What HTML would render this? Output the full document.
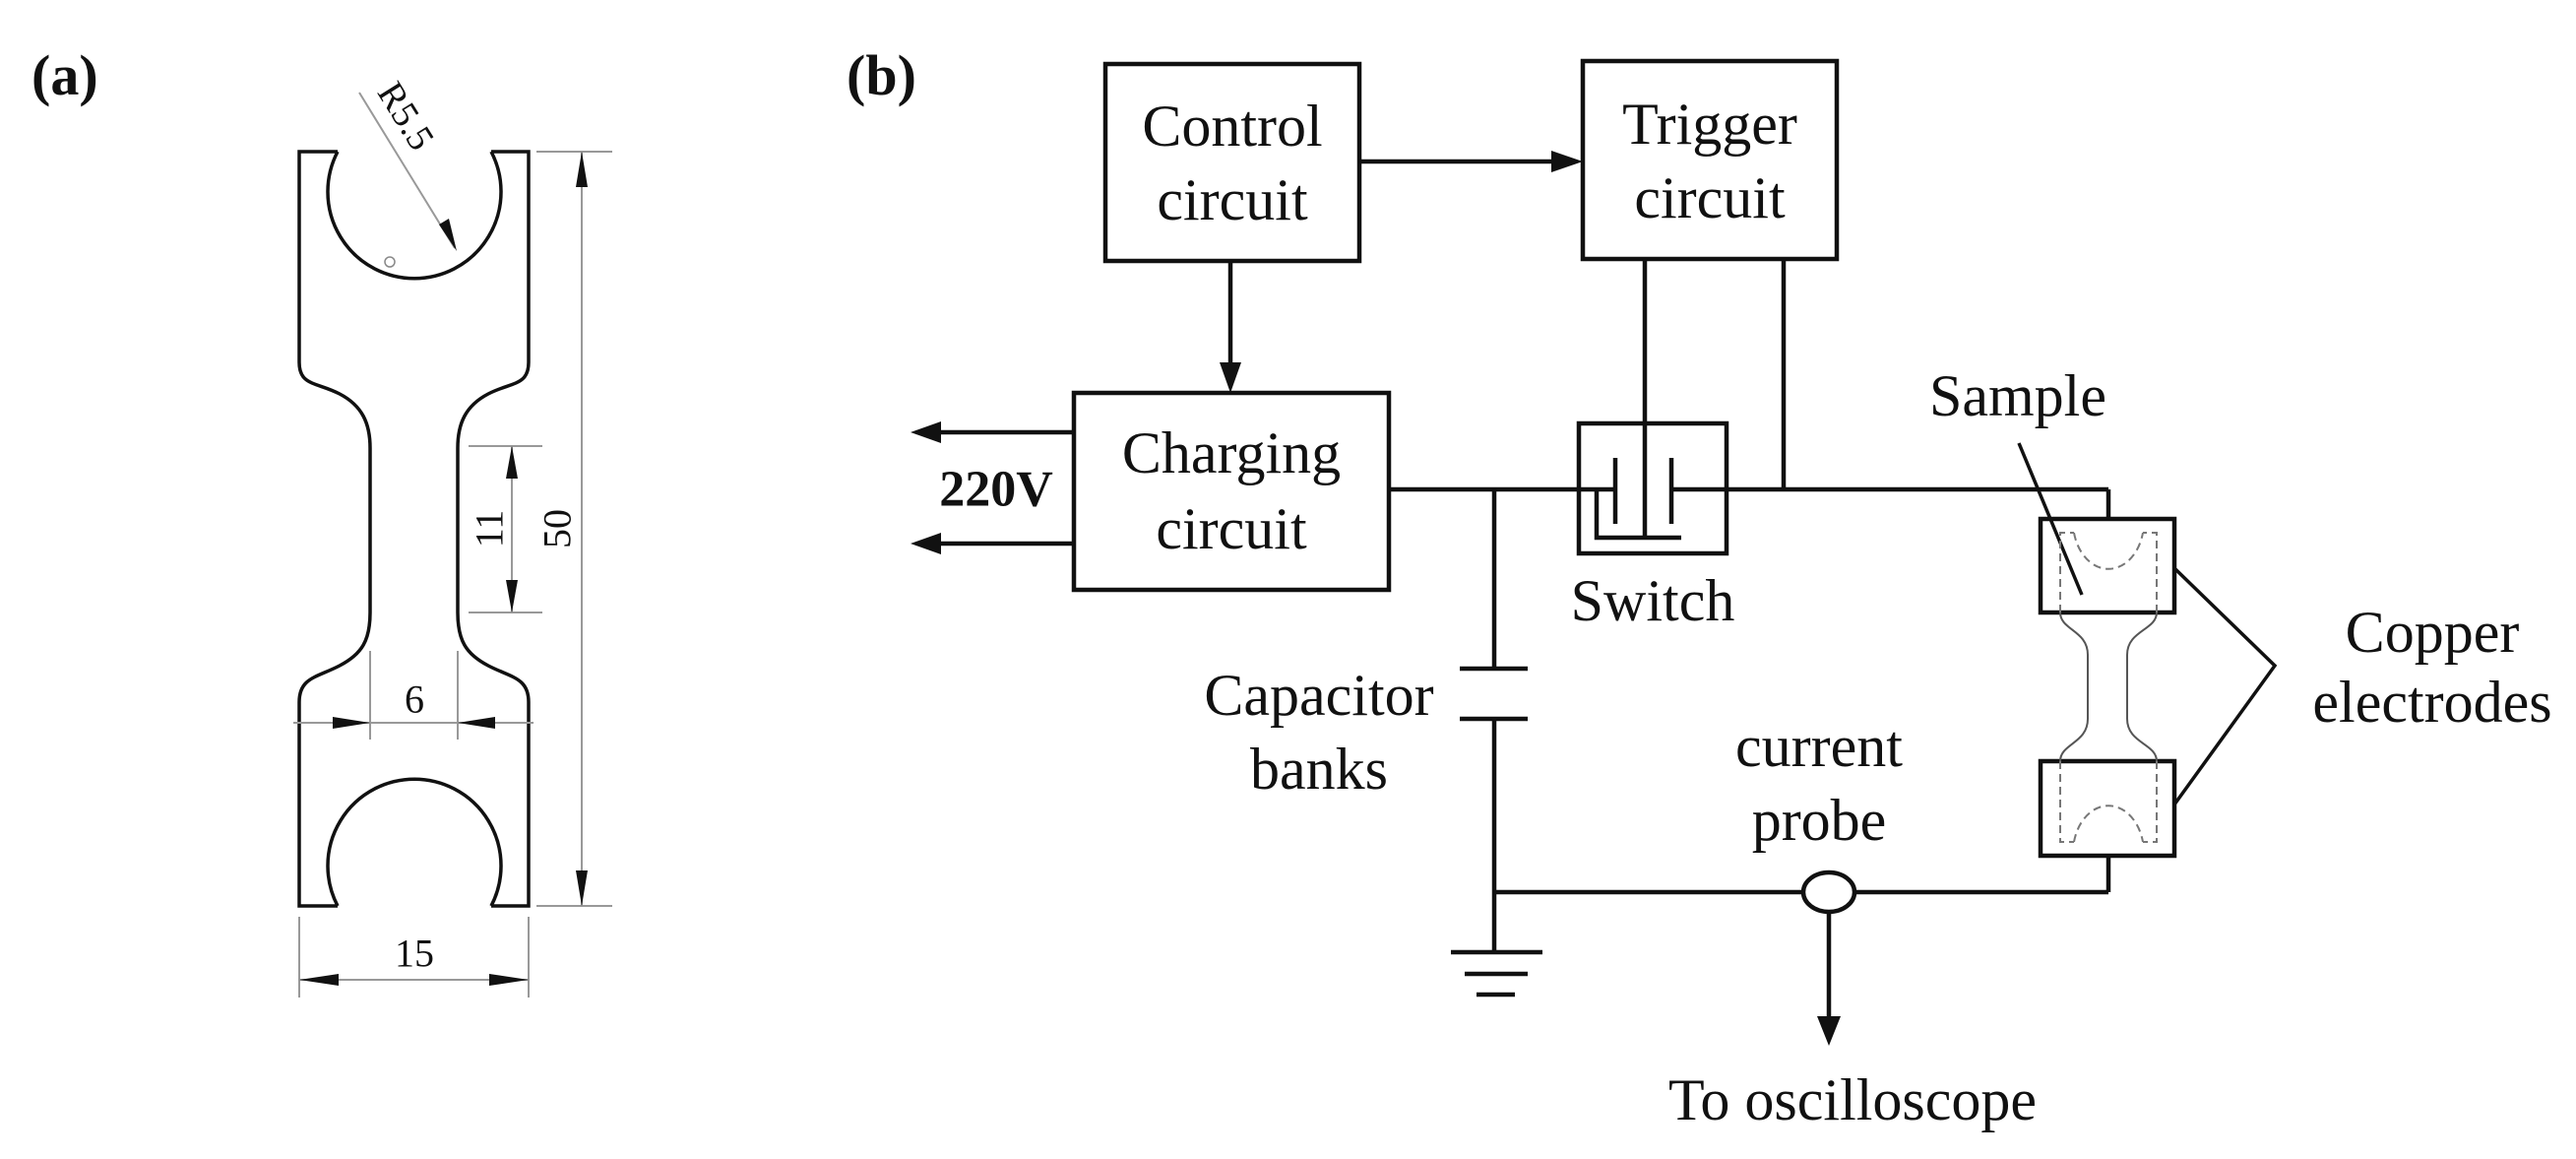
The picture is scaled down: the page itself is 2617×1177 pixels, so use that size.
<!DOCTYPE html>
<html><head><meta charset="utf-8"><style>
html,body{margin:0;padding:0;background:#fff;}
svg{display:block;}
text{font-family:"Liberation Serif","DejaVu Serif",serif;fill:#111;}
</style></head><body>
<svg width="2617" height="1177" viewBox="0 0 2617 1177" xmlns="http://www.w3.org/2000/svg">
<defs>
<marker id="ah" markerWidth="10" markerHeight="10" refX="9" refY="5" orient="auto" markerUnits="userSpaceOnUse" viewBox="0 0 10 10">
</marker>
</defs>
<!-- (a) -->
<text x="32" y="96" font-size="58" font-weight="bold">(a)</text>
<!-- specimen outline -->
<g fill="none" stroke="#111" stroke-width="3.5">
<path d="M343,154 L304,154 L304,368 C304,392 322,388 345,400 C368,412 376,430 376,455 L376,622 C376,650 368,664 345,676 C322,688 304,688 304,713 L304,920 L343,920"/>
<path d="M499,154 L537,154 L537,368 C537,392 519,388 496,400 C473,412 465,430 465,455 L465,622 C465,650 473,664 496,676 C519,688 537,688 537,713 L537,920 L499,920"/>
<path d="M343,154 A88,88 0 1 0 499,154"/>
<path d="M343,920 A88,88 0 1 1 499,920"/>
</g>
<circle cx="396" cy="266" r="5" fill="none" stroke="#888" stroke-width="1.5"/>
<!-- dimension lines -->
<g stroke="#999" stroke-width="2" fill="none">
<line x1="545" y1="154" x2="622" y2="154"/>
<line x1="545" y1="920" x2="622" y2="920"/>
<line x1="591" y1="154" x2="591" y2="920"/>
<line x1="476" y1="453" x2="551" y2="453"/>
<line x1="476" y1="622" x2="551" y2="622"/>
<line x1="520" y1="453" x2="520" y2="622"/>
<line x1="298" y1="734" x2="542" y2="734"/>
<line x1="376" y1="661" x2="376" y2="751"/>
<line x1="465" y1="661" x2="465" y2="751"/>
<line x1="304" y1="931" x2="304" y2="1013"/>
<line x1="537" y1="931" x2="537" y2="1013"/>
<line x1="304" y1="995" x2="537" y2="995"/>
<line x1="365" y1="94" x2="462" y2="252"/>
</g>
<g fill="#111">
<polygon points="591,154 585,190 597,190"/>
<polygon points="591,920 585,884 597,884"/>
<polygon points="520,453 514,486 526,486"/>
<polygon points="520,622 514,589 526,589"/>
<polygon points="376,734 338,728 338,740"/>
<polygon points="465,734 503,728 503,740"/>
<polygon points="304,995 344,989 344,1001"/>
<polygon points="537,995 497,989 497,1001"/>
<polygon points="464,255 446,228 456,222"/>
</g>
<text x="566" y="537" font-size="40" text-anchor="middle" dominant-baseline="central" transform="rotate(-90 566 537)">50</text>
<text x="497" y="537" font-size="40" text-anchor="middle" dominant-baseline="central" transform="rotate(-90 497 537)">11</text>
<text x="421" y="710" font-size="40" text-anchor="middle" dominant-baseline="central">6</text>
<text x="421" y="968" font-size="40" text-anchor="middle" dominant-baseline="central">15</text>
<text x="412" y="118" font-size="38" text-anchor="middle" dominant-baseline="central" transform="rotate(58 412 118)">R5.5</text>

<!-- (b) -->
<text x="860" y="96" font-size="58" font-weight="bold">(b)</text>
<g fill="none" stroke="#111" stroke-width="4.5">
<rect x="1123" y="65" width="258" height="200"/>
<rect x="1608" y="62" width="258" height="201"/>
<rect x="1091" y="399" width="320" height="200"/>
<rect x="1604" y="430" width="150" height="132"/>
<line x1="1381" y1="164" x2="1580" y2="164"/>
<line x1="1250" y1="265" x2="1250" y2="372"/>
<line x1="1091" y1="439" x2="950" y2="439"/>
<line x1="1091" y1="552" x2="950" y2="552"/>
<line x1="1411" y1="497" x2="1641" y2="497"/>
<line x1="1698" y1="497" x2="2142" y2="497"/>
<polyline points="2142,497 2142,527"/>
<line x1="1641" y1="465" x2="1641" y2="532"/>
<line x1="1698" y1="465" x2="1698" y2="532"/>
<polyline points="1622,497 1622,546 1708,546"/>
<line x1="1671" y1="263" x2="1671" y2="546"/>
<line x1="1812" y1="263" x2="1812" y2="497"/>
<line x1="1518" y1="497" x2="1518" y2="679"/>
<line x1="1483" y1="679" x2="1552" y2="679"/>
<line x1="1483" y1="730" x2="1552" y2="730"/>
<line x1="1518" y1="730" x2="1518" y2="967"/>
<line x1="1474" y1="967" x2="1567" y2="967"/>
<line x1="1488" y1="989" x2="1552" y2="989"/>
<line x1="1500" y1="1010" x2="1539" y2="1010"/>
<line x1="1518" y1="906" x2="1832" y2="906"/>
<line x1="1884" y1="906" x2="2142" y2="906"/>
<line x1="2142" y1="906" x2="2142" y2="869"/>
<ellipse cx="1858" cy="906" rx="26" ry="20"/>
<line x1="1858" y1="926" x2="1858" y2="1035"/>
<rect x="2073" y="527" width="136" height="95"/>
<rect x="2073" y="773" width="136" height="96"/>
<line x1="2051" y1="450" x2="2115" y2="604" stroke-width="3.5"/>
<polyline points="2209,577 2311,676 2209,817" stroke-width="3.5"/>
</g>
<g fill="#111">
<polygon points="1608,164 1576,153 1576,175"/>
<polygon points="1250,399 1239,368 1261,368"/>
<polygon points="925,439 956,428 956,450"/>
<polygon points="925,552 956,541 956,563"/>
<polygon points="1858,1062 1846,1032 1870,1032"/>
</g>
<!-- sample inside electrodes -->
<g fill="none" stroke="#555" stroke-width="2">
<path d="M2093,622 C2093,640 2121,640 2121,665 L2121,730 C2121,755 2093,755 2093,773"/>
<path d="M2191,622 C2191,640 2161,640 2161,665 L2161,730 C2161,755 2191,755 2191,773"/>
</g>
<g fill="none" stroke="#777" stroke-width="2" stroke-dasharray="8,5">
<polyline points="2093,622 2093,541 2107,541"/>
<polyline points="2191,622 2191,541 2177,541"/>
<path d="M2107,541 A36,48 0 0 0 2177,541"/>
<polyline points="2093,773 2093,855 2107,855"/>
<polyline points="2191,773 2191,855 2177,855"/>
<path d="M2107,855 A36,48 0 0 1 2177,855"/>
</g>
<g font-size="60" text-anchor="middle" dominant-baseline="central">
<text x="1252" y="128">Control</text>
<text x="1252" y="203">circuit</text>
<text x="1737" y="126">Trigger</text>
<text x="1737" y="201">circuit</text>
<text x="1251" y="460">Charging</text>
<text x="1251" y="537">circuit</text>
<text x="1679" y="610">Switch</text>
<text x="1340" y="706">Capacitor</text>
<text x="1340" y="781">banks</text>
<text x="2050" y="402">Sample</text>
<text x="2471" y="642">Copper</text>
<text x="2471" y="713">electrodes</text>
<text x="1848" y="758">current</text>
<text x="1848" y="833">probe</text>
<text x="1882" y="1117">To oscilloscope</text>
</g>
<text x="1012" y="497" font-size="52" font-weight="bold" text-anchor="middle" dominant-baseline="central">220V</text>
</svg>
</body></html>
